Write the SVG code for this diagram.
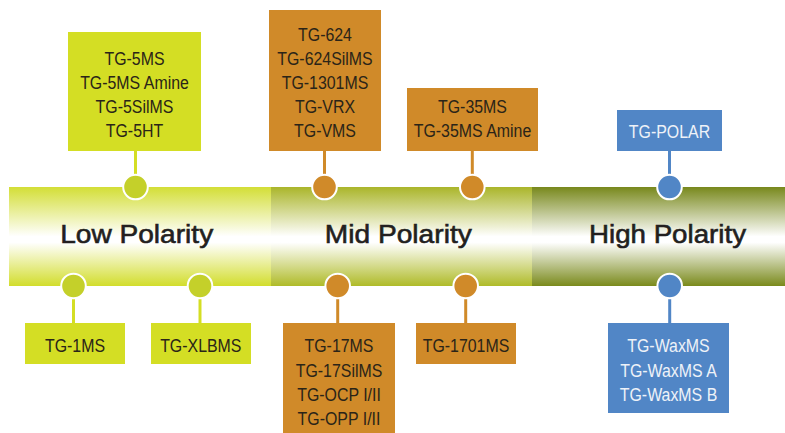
<svg xmlns="http://www.w3.org/2000/svg" width="785" height="433" viewBox="0 0 785 433">
<defs>
<linearGradient id="gLow" x1="0" y1="0" x2="0" y2="1">
<stop offset="0" stop-color="#d3de36"/><stop offset="0.5" stop-color="#ffffff"/><stop offset="0.56" stop-color="#ffffff"/><stop offset="1" stop-color="#d2dd2c"/>
</linearGradient>
<linearGradient id="gMid" x1="0" y1="0" x2="0" y2="1">
<stop offset="0" stop-color="#aab52a"/><stop offset="0.5" stop-color="#ffffff"/><stop offset="0.56" stop-color="#ffffff"/><stop offset="1" stop-color="#afbb28"/>
</linearGradient>
<linearGradient id="gHigh" x1="0" y1="0" x2="0" y2="1">
<stop offset="0" stop-color="#78881c"/><stop offset="0.5" stop-color="#ffffff"/><stop offset="0.56" stop-color="#ffffff"/><stop offset="1" stop-color="#7a8a1c"/>
</linearGradient>
</defs>
<style>
.lbl{font-family:"Liberation Sans",Arial,sans-serif;font-size:26px;fill:#231f20;stroke:#231f20;stroke-width:0.6;text-anchor:middle}
.t{font-family:"Liberation Sans",Arial,sans-serif;font-size:18.5px;fill:#2a2418;text-anchor:middle}
.tw{font-family:"Liberation Sans",Arial,sans-serif;font-size:18.5px;fill:#eef2f8;text-anchor:middle}
.bY{fill:#d4de24}.bO{fill:#d08a29}.bB{fill:#5186c6}
.sY{stroke:#d4de24;stroke-width:3}.sO{stroke:#d08a29;stroke-width:3}.sB{stroke:#5186c6;stroke-width:3}
.cY{fill:#c4d02a;stroke:#fff;stroke-width:2}.cO{fill:#d08a29;stroke:#fff;stroke-width:2}.cB{fill:#5186c6;stroke:#fff;stroke-width:2}
</style>
<g id="band">
<rect x="9" y="187" width="262" height="99" fill="url(#gLow)"/>
<rect x="271" y="187" width="261" height="99" fill="url(#gMid)"/>
<rect x="532" y="187" width="253" height="99" fill="url(#gHigh)"/>
<text class="lbl" x="136.7" y="243" textLength="153" lengthAdjust="spacingAndGlyphs">Low Polarity</text>
<text class="lbl" x="398.3" y="243" textLength="147" lengthAdjust="spacingAndGlyphs">Mid Polarity</text>
<text class="lbl" x="667.5" y="243" textLength="157" lengthAdjust="spacingAndGlyphs">High Polarity</text>
</g>
<g id="connectors">
<line class="sY" x1="135.5" y1="151" x2="135.5" y2="187"/>
<line class="sO" x1="324.5" y1="151" x2="324.5" y2="187"/>
<line class="sO" x1="472.3" y1="151" x2="472.3" y2="187"/>
<line class="sB" x1="669.5" y1="151" x2="669.5" y2="187"/>
<line class="sY" x1="73.5" y1="286" x2="73.5" y2="323"/>
<line class="sY" x1="200" y1="286" x2="200" y2="323"/>
<line class="sO" x1="337.7" y1="286" x2="337.7" y2="323"/>
<line class="sO" x1="465.7" y1="286" x2="465.7" y2="323"/>
<line class="sB" x1="669.7" y1="286" x2="669.7" y2="323"/>
<circle class="cY" cx="135.5" cy="187" r="12.3"/>
<circle class="cO" cx="324.5" cy="187" r="12.3"/>
<circle class="cO" cx="472.3" cy="187" r="12.3"/>
<circle class="cB" cx="669.5" cy="187" r="12.3"/>
<circle class="cY" cx="73.5" cy="286" r="12.3"/>
<circle class="cY" cx="200" cy="286" r="12.3"/>
<circle class="cO" cx="337.7" cy="286" r="12.3"/>
<circle class="cO" cx="465.7" cy="286" r="12.3"/>
<circle class="cB" cx="669.7" cy="286" r="12.3"/>
</g>
<g id="n-low-top">
<rect class="bY" x="68" y="32" width="133" height="119"/>
<g transform="translate(134.5 0) scale(0.86 1)">
<text class="t" x="0" y="65">TG-5MS</text>
<text class="t" x="0" y="89">TG-5MS Amine</text>
<text class="t" x="0" y="113">TG-5SilMS</text>
<text class="t" x="0" y="137">TG-5HT</text>
</g>
</g>
<g id="n-mid-top1">
<rect class="bO" x="269" y="10" width="112" height="141"/>
<g transform="translate(325 0) scale(0.86 1)">
<text class="t" x="0" y="40.7">TG-624</text>
<text class="t" x="0" y="64.7">TG-624SilMS</text>
<text class="t" x="0" y="89">TG-1301MS</text>
<text class="t" x="0" y="113.2">TG-VRX</text>
<text class="t" x="0" y="137.3">TG-VMS</text>
</g>
</g>
<g id="n-mid-top2">
<rect class="bO" x="407" y="88" width="131" height="63"/>
<g transform="translate(472.5 0) scale(0.86 1)">
<text class="t" x="0" y="113.3">TG-35MS</text>
<text class="t" x="0" y="137.3">TG-35MS Amine</text>
</g>
</g>
<g id="n-high-top">
<rect class="bB" x="617" y="110" width="105" height="41"/>
<g transform="translate(669.5 0) scale(0.86 1)">
<text class="tw" x="0" y="138">TG-POLAR</text>
</g>
</g>
<g id="n-low-b1">
<rect class="bY" x="25" y="323" width="100" height="41"/>
<g transform="translate(75 0) scale(0.86 1)">
<text class="t" x="0" y="352.3">TG-1MS</text>
</g>
</g>
<g id="n-low-b2">
<rect class="bY" x="151" y="323" width="100" height="41"/>
<g transform="translate(200.8 0) scale(0.86 1)">
<text class="t" x="0" y="352.3">TG-XLBMS</text>
</g>
</g>
<g id="n-mid-b1">
<rect class="bO" x="283" y="323" width="112" height="110"/>
<g transform="translate(339 0) scale(0.86 1)">
<text class="t" x="0" y="352.3">TG-17MS</text>
<text class="t" x="0" y="376.7">TG-17SilMS</text>
<text class="t" x="0" y="400.7">TG-OCP I/II</text>
<text class="t" x="0" y="425">TG-OPP I/II</text>
</g>
</g>
<g id="n-mid-b2">
<rect class="bO" x="416" y="323" width="100" height="41"/>
<g transform="translate(466 0) scale(0.86 1)">
<text class="t" x="0" y="352.3">TG-1701MS</text>
</g>
</g>
<g id="n-high-b">
<rect class="bB" x="608" y="323" width="121" height="90"/>
<g transform="translate(668.5 0) scale(0.86 1)">
<text class="tw" x="0" y="352.3">TG-WaxMS</text>
<text class="tw" x="0" y="376.7">TG-WaxMS A</text>
<text class="tw" x="0" y="400.7">TG-WaxMS B</text>
</g>
</g>
</svg>
